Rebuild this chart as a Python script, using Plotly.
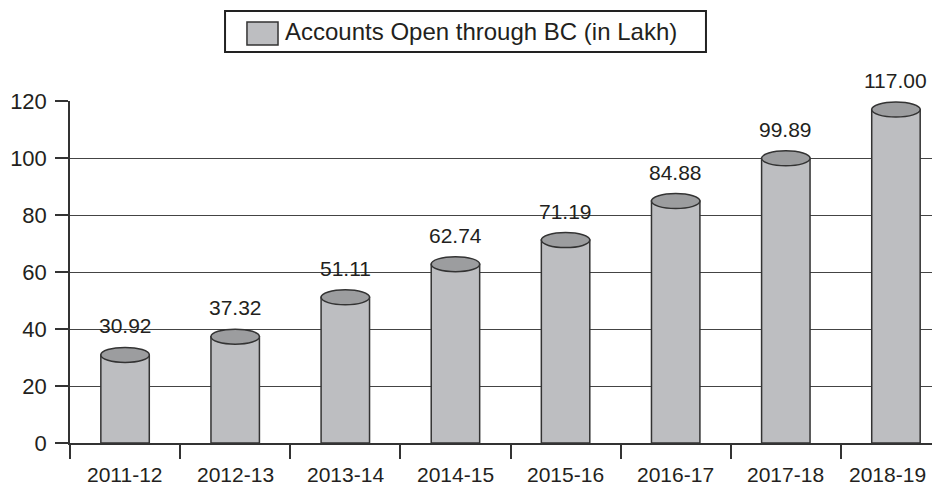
import plotly.graph_objects as go

categories = ["2011-12", "2012-13", "2013-14", "2014-15", "2015-16", "2016-17", "2017-18", "2018-19"]
accounts = [30.92, 37.32, 51.11, 62.74, 71.19, 84.88, 99.89, 117.00]
value_labels = ["30.92", "37.32", "51.11", "62.74", "71.19", "84.88", "99.89", "117.00"]
y_ticks = [0, 20, 40, 60, 80, 100, 120]
series_name = "Accounts Open through BC (in Lakh)"

FONT = "Liberation Sans, Arial, sans-serif"
BAR_FILL = "#bdbec1"
TOP_FILL = "#9c9d9f"
EDGE = "#333333"
TXT = "#231f20"
BAR_W = 0.44

fig = go.Figure()
fig.add_trace(go.Bar(
    x=categories,
    y=accounts,
    width=BAR_W,
    marker=dict(color=BAR_FILL, line=dict(color=EDGE, width=1.5)),
    showlegend=False,
    hoverinfo="skip",
))

shapes = []
annotations = []
for i, v in enumerate(accounts):
    shapes.append(dict(
        type="circle", xref="x", yref="y", ysizemode="pixel", yanchor=v,
        x0=i - BAR_W / 2, x1=i + BAR_W / 2, y0=-7.5, y1=7.5,
        fillcolor=TOP_FILL, line=dict(color=EDGE, width=1.5), layer="above",
    ))
    annotations.append(dict(
        x=i, y=v, xref="x", yref="y", text=value_labels[i], showarrow=False,
        yanchor="middle", xanchor="center", yshift=29,
        font=dict(family=FONT, size=21, color=TXT),
    ))

# category labels (last one nudged left to stay inside the frame, as in the reference)
for i, c in enumerate(categories):
    annotations.append(dict(
        x=i, y=0, xref="x", yref="y", text=c, showarrow=False,
        yanchor="middle", xanchor="center", yshift=-31,
        xshift=-8 if i == len(categories) - 1 else 0,
        font=dict(family=FONT, size=21, color=TXT),
    ))

# manual legend
shapes.append(dict(type="rect", xref="paper", yref="paper",
                   x0=0.1782, x1=0.7310, y0=1.1433, y1=1.2632,
                   line=dict(color="#222222", width=2), fillcolor="white", layer="above"))
shapes.append(dict(type="rect", xref="paper", yref="paper",
                   x0=0.2034, x1=0.2391, y0=1.1637, y1=1.2310,
                   line=dict(color="#333333", width=1.5), fillcolor=BAR_FILL, layer="above"))
annotations.append(dict(
    x=0.2450, y=1.2032, xref="paper", yref="paper", text=series_name, showarrow=False,
    xanchor="left", yanchor="middle",
    font=dict(family=FONT, size=24, color=TXT),
))

fig.update_layout(
    template="none",
    width=932, height=478,
    margin=dict(l=62, r=0, t=93, b=43, autoexpand=False),
    paper_bgcolor="white", plot_bgcolor="white",
    font=dict(family=FONT, size=21, color=TXT),
    shapes=shapes,
    annotations=annotations,
    showlegend=False,
    xaxis=dict(
        type="category", categoryorder="array", categoryarray=categories,
        range=[-0.5, 7.4], showgrid=False, zeroline=False,
        showline=True, linecolor=EDGE, linewidth=1.5,
        ticks="outside", tickson="boundaries", ticklen=14, tickcolor=EDGE, tickwidth=1.5,
        showticklabels=False,
        automargin=False,
    ),
    yaxis=dict(
        range=[0, 120], tickvals=y_ticks, showgrid=True, gridcolor="#444444", gridwidth=1.3,
        zeroline=False, showline=True, linecolor=EDGE, linewidth=1.5,
        ticks="outside", ticklen=13, tickcolor=EDGE, tickwidth=1.5,
        ticklabelstandoff=4,
        tickfont=dict(family=FONT, size=22, color=TXT),
        automargin=False,
    ),
)

fig.write_html("out.html")
